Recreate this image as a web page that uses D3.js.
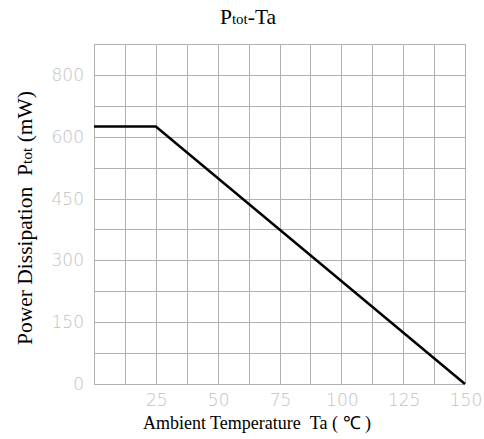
<!DOCTYPE html>
<html><head><meta charset="utf-8">
<script src="https://cdn.jsdelivr.net/npm/d3@7"></script>
<style>body{margin:0;background:#fff}</style>
</head><body>
<script>
const temps = [0, 25, 150];
const power = [625, 625, 0];
const xTickValues = [25, 50, 75, 100, 125, 150];
const yTickValues = [0, 150, 300, 450, 600, 750];
const yTickLabels = ["0", "150", "300", "450", "600", "800"];
const xGrid = d3.range(0, 150.1, 12.5);
const yGrid = d3.range(0, 825.1, 75);

const W = 484, H = 439;
const m = {left: 94, right: 19, top: 44, bottom: 55};
const svg = d3.select("body").append("svg").attr("width", W).attr("height", H);
const x = d3.scaleLinear().domain([0, 150]).range([m.left, W - m.right]);
const y = d3.scaleLinear().domain([0, 825]).range([H - m.bottom, m.top]);

const g = svg.append("g");
g.selectAll(".vg").data(xGrid).join("line")
  .attr("x1", d => Math.round(x(d)) + 0.5).attr("x2", d => Math.round(x(d)) + 0.5)
  .attr("y1", y(0)).attr("y2", y(825))
  .attr("stroke", "#b0b0b0").attr("stroke-width", 1);
g.selectAll(".hg").data(yGrid).join("line")
  .attr("y1", d => Math.round(y(d)) + 0.5).attr("y2", d => Math.round(y(d)) + 0.5)
  .attr("x1", x(0)).attr("x2", x(150))
  .attr("stroke", "#b0b0b0").attr("stroke-width", 1);

const line = d3.line().x((d, i) => x(temps[i])).y(d => y(d));
svg.append("path").datum(power).attr("d", line)
  .attr("fill", "none").attr("stroke", "#000").attr("stroke-width", 2.5);

const tickFont = "'DejaVu Sans', sans-serif";
svg.selectAll(".yt").data(yTickValues).join("text")
  .attr("x", 84).attr("y", d => y(d) + 6)
  .attr("text-anchor", "end")
  .attr("font-family", tickFont).attr("font-weight", 200).attr("font-size", 17)
  .attr("fill", "#c2c2c2")
  .text((d, i) => yTickLabels[i]);
svg.selectAll(".xt").data(xTickValues).join("text")
  .attr("x", d => x(d) + 1).attr("y", 406)
  .attr("text-anchor", "middle")
  .attr("font-family", tickFont).attr("font-weight", 200).attr("font-size", 17)
  .attr("fill", "#c2c2c2")
  .text(d => d);

const serif = "'Liberation Serif', 'Times New Roman', serif";
const title = svg.append("text").attr("x", 248).attr("y", 24)
  .attr("text-anchor", "middle").attr("font-family", serif).attr("font-size", 21.5).attr("fill", "#000");
title.append("tspan").text("P");
title.append("tspan").attr("font-size", 15).text("tot");
title.append("tspan").text("-Ta");

const ylab = svg.append("text")
  .attr("transform", "translate(32,218) rotate(-90)")
  .attr("text-anchor", "middle").attr("font-family", serif).attr("font-size", 21.5).attr("fill", "#000");
ylab.append("tspan").text("Power Dissipation\u00a0\u00a0P");
ylab.append("tspan").attr("font-size", 15.5).text("tot");
ylab.append("tspan").text(" (mW)");

svg.append("text").attr("x", 257).attr("y", 429)
  .attr("text-anchor", "middle").attr("font-family", serif).attr("font-size", 18).attr("fill", "#000")
  .text("Ambient Temperature\u00a0\u00a0Ta ( \u2103 )");
</script>
</body></html>
